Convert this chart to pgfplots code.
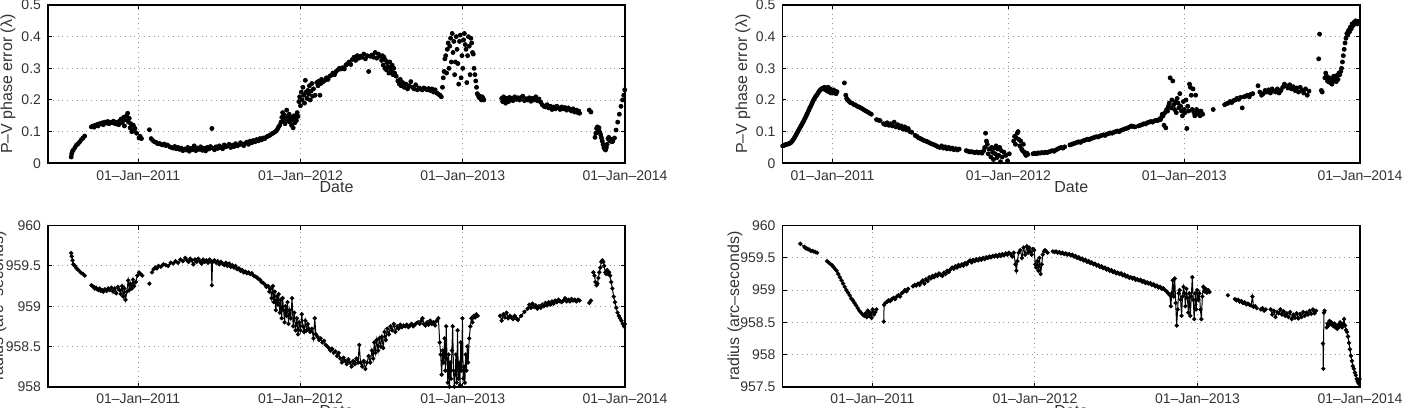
\documentclass[border=0pt]{standalone}
\usepackage{fontspec}
\setmainfont{Liberation Sans}
\usepackage{pgfplots}
\pgfplotsset{compat=1.18}
\newcommand{\tf}{\fontsize{7}{8}\selectfont}
\newcommand{\lf}{\fontsize{8}{9}\selectfont}
\pgfplotsset{
 myax/.style={
  scale only axis, anchor=south west,
  xmax=2014, xtick={2011,2012,2013,2014},
  xticklabels={01--Jan--2011,01--Jan--2012,01--Jan--2013,01--Jan--2014},
  grid=major, major grid style={dotted, black!40, line width=0.45pt},
  tick align=inside, major tick length=2pt, tick style={black, line width=0.5pt},
  axis line style={line width=0.8pt},
  xticklabel style={font=\tf, text=black!80},
  yticklabel style={font=\tf, text=black!80, /pgf/number format/fixed, /pgf/number format/precision=2},
  xlabel={Date},
  every axis x label/.style={at={(rel axis cs:0.5,0)}, anchor=center, yshift=-12pt, font=\lf, text=black!80},
  /pgf/number format/assume math mode=true,
  unbounded coords=jump,
 },
 yl/.style={every axis y label/.style={at={(rel axis cs:0,0.5)}, xshift=#1, rotate=90, anchor=center, font=\lf, text=black!80}},
 dots/.style={only marks, mark=*, mark size=1pt, black},
 ldots/.style={mark=*, mark size=0.8pt, black, line width=0.5pt},
}
\begin{document}
\begin{tikzpicture}
\useasboundingbox (0,0) rectangle (706pt,203.5pt);
% ---------------- top left
\begin{axis}[myax, at={(24pt,121.85pt)}, width=288.5pt, height=79.15pt,
  xmin=2010.444, ymin=0, ymax=0.5, ytick={0,0.1,0.2,0.3,0.4,0.5},
  ylabel={P--V phase error (λ)}, yl=-20pt]
\addplot[dots] coordinates {
(2010.587,0.020)(2010.590,0.030)(2010.595,0.038)(2010.600,0.042)(2010.610,0.050)(2010.620,0.058)(2010.630,0.062)(2010.640,0.068)(2010.650,0.075)(2010.660,0.080)(2010.670,0.086)
(2010.711,0.115)(2010.720,0.118)(2010.728,0.114)(2010.735,0.120)(2010.745,0.122)(2010.752,0.118)(2010.760,0.125)(2010.770,0.124)(2010.778,0.128)(2010.785,0.122)(2010.795,0.130)(2010.805,0.127)(2010.812,0.132)(2010.820,0.125)(2010.830,0.130)(2010.840,0.128)(2010.848,0.133)(2010.855,0.126)(2010.865,0.124)(2010.872,0.130)(2010.880,0.122)(2010.888,0.135)(2010.895,0.140)(2010.902,0.128)(2010.910,0.145)(2010.915,0.118)(2010.920,0.138)(2010.928,0.150)(2010.935,0.158)(2010.940,0.130)(2010.945,0.142)(2010.950,0.112)(2010.955,0.125)(2010.960,0.100)(2010.965,0.105)(2010.970,0.120)(2010.975,0.102)(2010.980,0.110)(2010.990,0.095)(2011.005,0.080)(2011.012,0.085)(2011.020,0.078)
(2011.069,0.106)(2011.080,0.078)(2011.090,0.072)(2011.100,0.068)(2011.110,0.066)(2011.120,0.062)(2011.130,0.063)(2011.140,0.060)(2011.150,0.058)(2011.160,0.061)(2011.170,0.056)(2011.180,0.058)(2011.195,0.052)(2011.205,0.050)(2011.215,0.048)(2011.225,0.053)(2011.235,0.046)(2011.245,0.050)(2011.255,0.044)(2011.265,0.048)(2011.275,0.040)(2011.285,0.045)(2011.295,0.042)(2011.305,0.050)(2011.315,0.038)(2011.325,0.047)(2011.335,0.043)(2011.345,0.055)(2011.355,0.040)(2011.365,0.048)(2011.375,0.044)(2011.385,0.052)(2011.395,0.041)(2011.405,0.047)(2011.415,0.039)(2011.425,0.050)(2011.435,0.045)(2011.445,0.053)(2011.454,0.110)(2011.460,0.048)(2011.470,0.043)(2011.480,0.052)(2011.490,0.047)(2011.500,0.055)(2011.510,0.050)(2011.520,0.046)(2011.530,0.058)(2011.540,0.052)(2011.550,0.055)(2011.560,0.060)(2011.570,0.050)(2011.580,0.057)(2011.590,0.053)(2011.600,0.062)(2011.610,0.055)(2011.620,0.058)(2011.630,0.065)(2011.640,0.060)(2011.650,0.056)(2011.660,0.063)(2011.670,0.067)(2011.680,0.060)(2011.690,0.070)(2011.700,0.065)(2011.710,0.072)(2011.720,0.068)(2011.730,0.075)(2011.740,0.071)(2011.750,0.078)(2011.760,0.074)(2011.770,0.080)(2011.780,0.078)(2011.790,0.083)(2011.800,0.086)(2011.810,0.088)(2011.820,0.092)(2011.830,0.095)(2011.840,0.098)(2011.850,0.102)(2011.858,0.108)(2011.865,0.115)(2011.872,0.120)(2011.880,0.130)(2011.885,0.145)(2011.890,0.160)(2011.895,0.138)(2011.900,0.152)(2011.905,0.125)(2011.910,0.148)(2011.915,0.168)(2011.920,0.135)(2011.925,0.142)(2011.930,0.155)(2011.935,0.130)(2011.940,0.145)(2011.945,0.120)(2011.950,0.138)(2011.955,0.112)(2011.960,0.150)(2011.965,0.128)(2011.970,0.145)(2011.975,0.135)(2011.980,0.160)(2011.985,0.148)(2011.990,0.195)(2011.995,0.210)(2012.000,0.182)(2012.005,0.225)(2012.010,0.200)(2012.015,0.240)(2012.020,0.215)(2012.025,0.190)(2012.030,0.262)(2012.035,0.225)(2012.040,0.205)(2012.045,0.230)(2012.050,0.218)(2012.055,0.245)(2012.060,0.200)(2012.065,0.228)(2012.070,0.252)(2012.075,0.212)(2012.080,0.235)(2012.090,0.215)(2012.100,0.255)(2012.108,0.245)(2012.115,0.260)(2012.120,0.215)(2012.125,0.252)(2012.130,0.265)(2012.140,0.258)(2012.150,0.262)(2012.160,0.270)(2012.170,0.265)(2012.180,0.275)(2012.190,0.278)(2012.200,0.285)(2012.210,0.280)(2012.220,0.290)(2012.230,0.295)(2012.240,0.300)(2012.250,0.298)(2012.260,0.302)(2012.270,0.298)(2012.280,0.310)(2012.290,0.315)(2012.300,0.320)(2012.310,0.312)(2012.320,0.328)(2012.330,0.335)(2012.340,0.325)(2012.350,0.340)(2012.360,0.332)(2012.370,0.338)(2012.380,0.335)(2012.390,0.345)(2012.400,0.330)(2012.410,0.340)(2012.420,0.290)(2012.430,0.338)(2012.440,0.342)(2012.450,0.335)(2012.460,0.350)(2012.470,0.332)(2012.480,0.345)(2012.490,0.338)(2012.500,0.325)(2012.505,0.340)(2012.510,0.310)(2012.515,0.335)(2012.520,0.300)(2012.525,0.325)(2012.530,0.295)(2012.535,0.318)(2012.540,0.305)(2012.545,0.285)(2012.550,0.320)(2012.555,0.300)(2012.560,0.290)(2012.565,0.310)(2012.570,0.280)(2012.575,0.300)(2012.580,0.285)(2012.590,0.275)(2012.600,0.260)(2012.610,0.250)(2012.615,0.265)(2012.620,0.245)(2012.630,0.255)(2012.640,0.240)(2012.650,0.250)(2012.660,0.235)(2012.670,0.245)(2012.680,0.258)(2012.690,0.240)(2012.700,0.235)(2012.710,0.248)(2012.720,0.232)(2012.730,0.238)(2012.740,0.235)(2012.750,0.232)(2012.760,0.238)(2012.770,0.235)(2012.780,0.232)(2012.790,0.236)(2012.800,0.230)(2012.810,0.235)(2012.820,0.225)(2012.830,0.232)(2012.840,0.222)(2012.850,0.218)(2012.860,0.215)(2012.868,0.210)(2012.875,0.240)(2012.880,0.270)(2012.885,0.290)(2012.890,0.330)(2012.895,0.340)(2012.900,0.285)(2012.905,0.360)(2012.910,0.380)(2012.915,0.300)(2012.920,0.370)(2012.925,0.395)(2012.930,0.320)(2012.935,0.410)(2012.940,0.350)(2012.945,0.385)(2012.950,0.280)(2012.955,0.320)(2012.960,0.400)(2012.965,0.360)(2012.970,0.315)(2012.975,0.250)(2012.980,0.385)(2012.985,0.405)(2012.990,0.270)(2012.995,0.340)(2013.000,0.300)(2013.005,0.390)(2013.010,0.410)(2013.015,0.375)(2013.020,0.360)(2013.025,0.255)(2013.030,0.340)(2013.035,0.400)(2013.040,0.370)(2013.045,0.280)(2013.050,0.395)(2013.055,0.380)(2013.060,0.350)(2013.065,0.345)(2013.070,0.300)(2013.075,0.280)(2013.080,0.260)(2013.085,0.240)(2013.090,0.220)(2013.095,0.215)(2013.100,0.208)(2013.105,0.212)(2013.110,0.205)(2013.115,0.200)(2013.120,0.210)(2013.125,0.205)(2013.130,0.200)
(2013.240,0.205)(2013.246,0.195)(2013.252,0.210)(2013.258,0.200)(2013.264,0.190)(2013.270,0.205)(2013.276,0.200)(2013.282,0.195)(2013.288,0.208)(2013.294,0.200)(2013.300,0.205)(2013.310,0.198)(2013.320,0.210)(2013.330,0.202)(2013.340,0.207)(2013.350,0.200)(2013.360,0.208)(2013.370,0.212)(2013.380,0.198)(2013.390,0.204)(2013.400,0.200)(2013.410,0.207)(2013.420,0.196)(2013.430,0.205)(2013.440,0.200)(2013.450,0.210)(2013.460,0.198)(2013.470,0.203)
(2013.480,0.193)(2013.490,0.185)(2013.500,0.180)(2013.510,0.178)(2013.520,0.185)(2013.530,0.175)(2013.540,0.180)(2013.550,0.170)(2013.560,0.178)(2013.570,0.172)(2013.580,0.180)(2013.590,0.175)(2013.600,0.170)(2013.610,0.178)(2013.620,0.172)(2013.630,0.176)(2013.640,0.168)(2013.650,0.175)(2013.660,0.170)(2013.670,0.165)(2013.680,0.172)(2013.690,0.162)(2013.700,0.168)(2013.710,0.160)(2013.715,0.165)(2013.720,0.158)
(2013.780,0.168)(2013.790,0.162)
(2013.815,0.082)(2013.820,0.095)(2013.825,0.110)(2013.830,0.115)(2013.835,0.105)(2013.840,0.112)(2013.845,0.098)(2013.850,0.090)(2013.855,0.080)(2013.860,0.070)(2013.865,0.060)(2013.870,0.050)(2013.875,0.045)(2013.880,0.042)(2013.885,0.050)(2013.890,0.060)(2013.895,0.078)(2013.900,0.082)(2013.905,0.072)(2013.910,0.075)(2013.915,0.075)(2013.920,0.068)(2013.925,0.070)(2013.935,0.080)(2013.945,0.105)(2013.955,0.130)(2013.965,0.155)(2013.975,0.180)(2013.985,0.200)(2013.992,0.215)(2013.998,0.232)
};
\end{axis}
% ---------------- top right
\begin{axis}[myax, at={(391.25pt,121.85pt)}, width=288.75pt, height=79.15pt,
  xmin=2010.715, ymin=0, ymax=0.5, ytick={0,0.1,0.2,0.3,0.4,0.5},
  ylabel={P--V phase error (λ)}, yl=-19.75pt]
\addplot[dots] coordinates {
(2010.716,0.055)(2010.722,0.056)(2010.728,0.058)(2010.734,0.059)(2010.740,0.060)(2010.746,0.061)(2010.752,0.062)(2010.758,0.064)(2010.764,0.066)(2010.770,0.070)(2010.775,0.074)(2010.780,0.078)(2010.785,0.083)(2010.790,0.088)(2010.795,0.093)(2010.800,0.098)(2010.805,0.103)(2010.810,0.108)(2010.815,0.113)(2010.820,0.118)(2010.825,0.123)(2010.830,0.128)(2010.835,0.133)(2010.840,0.139)(2010.845,0.144)(2010.850,0.150)(2010.855,0.156)(2010.860,0.162)(2010.865,0.168)(2010.870,0.175)(2010.875,0.180)(2010.880,0.186)(2010.885,0.192)(2010.890,0.198)(2010.895,0.203)(2010.900,0.208)(2010.905,0.212)(2010.910,0.216)(2010.915,0.220)(2010.920,0.225)(2010.925,0.228)(2010.930,0.232)(2010.935,0.234)(2010.940,0.236)(2010.945,0.238)(2010.950,0.235)(2010.955,0.240)(2010.960,0.232)(2010.965,0.238)(2010.970,0.228)(2010.975,0.240)(2010.980,0.226)(2010.985,0.235)(2010.990,0.222)(2010.995,0.230)(2011.000,0.225)(2011.005,0.232)(2011.010,0.222)(2011.015,0.228)(2011.020,0.220)(2011.025,0.226)
(2011.067,0.254)
(2011.075,0.215)(2011.080,0.205)(2011.085,0.200)(2011.090,0.198)(2011.095,0.195)(2011.100,0.192)(2011.110,0.190)(2011.120,0.186)(2011.130,0.184)(2011.140,0.180)(2011.150,0.178)(2011.160,0.175)(2011.170,0.172)(2011.180,0.168)(2011.190,0.165)(2011.200,0.162)(2011.210,0.158)(2011.220,0.155)
(2011.250,0.138)(2011.260,0.136)(2011.270,0.135)
(2011.290,0.125)(2011.300,0.122)(2011.310,0.128)(2011.320,0.120)(2011.330,0.125)(2011.340,0.118)(2011.350,0.130)(2011.360,0.115)(2011.370,0.122)(2011.380,0.112)(2011.390,0.118)(2011.400,0.108)(2011.410,0.115)(2011.420,0.105)(2011.430,0.110)(2011.440,0.100)(2011.450,0.098)
(2011.470,0.088)(2011.480,0.085)(2011.490,0.080)(2011.500,0.078)(2011.510,0.075)(2011.520,0.072)(2011.530,0.070)(2011.540,0.068)(2011.550,0.065)(2011.560,0.062)(2011.570,0.060)(2011.580,0.058)(2011.590,0.055)(2011.600,0.052)(2011.610,0.050)(2011.620,0.055)(2011.630,0.048)(2011.640,0.052)(2011.650,0.046)(2011.660,0.050)(2011.670,0.045)(2011.680,0.048)(2011.690,0.043)(2011.700,0.046)(2011.710,0.042)(2011.720,0.045)
(2011.760,0.040)(2011.770,0.038)(2011.780,0.036)(2011.790,0.037)(2011.800,0.035)(2011.810,0.034)(2011.820,0.036)(2011.830,0.033)(2011.840,0.035)(2011.850,0.032)(2011.860,0.040)(2011.865,0.050)(2011.870,0.095)(2011.875,0.070)(2011.880,0.060)(2011.885,0.030)(2011.890,0.045)(2011.900,0.020)(2011.905,0.050)(2011.910,0.035)(2011.915,0.012)(2011.920,0.048)(2011.925,0.030)(2011.930,0.055)(2011.935,0.018)(2011.940,0.045)(2011.945,0.025)(2011.950,0.050)(2011.955,0.005)(2011.960,0.040)(2011.965,0.020)(2011.975,0.035)(2011.985,0.025)(2011.995,0.008)(2012.005,0.030)
(2012.030,0.070)(2012.035,0.085)(2012.040,0.060)(2012.045,0.080)(2012.050,0.095)(2012.055,0.100)(2012.060,0.075)(2012.065,0.055)(2012.070,0.070)(2012.075,0.045)(2012.080,0.040)(2012.085,0.060)(2012.090,0.035)(2012.095,0.030)(2012.100,0.025)(2012.105,0.032)(2012.110,0.028)
(2012.140,0.030)(2012.150,0.032)(2012.160,0.030)(2012.170,0.033)(2012.180,0.032)(2012.190,0.034)(2012.200,0.033)(2012.210,0.035)(2012.220,0.034)(2012.230,0.036)(2012.240,0.038)(2012.250,0.040)(2012.260,0.038)(2012.270,0.042)(2012.280,0.045)(2012.290,0.048)(2012.300,0.050)(2012.310,0.048)(2012.320,0.052)
(2012.350,0.058)(2012.360,0.060)(2012.370,0.062)(2012.380,0.064)(2012.390,0.066)(2012.400,0.068)(2012.410,0.066)(2012.420,0.070)(2012.430,0.072)(2012.440,0.074)(2012.450,0.076)(2012.460,0.075)(2012.470,0.078)(2012.480,0.080)(2012.490,0.082)(2012.500,0.084)(2012.510,0.083)(2012.520,0.086)(2012.530,0.088)(2012.540,0.090)(2012.550,0.088)(2012.560,0.092)(2012.570,0.094)(2012.580,0.096)(2012.590,0.095)(2012.600,0.098)(2012.610,0.100)(2012.620,0.102)(2012.630,0.100)(2012.640,0.104)(2012.650,0.106)(2012.660,0.108)(2012.670,0.110)(2012.680,0.112)(2012.690,0.115)(2012.700,0.118)(2012.710,0.116)(2012.720,0.115)
(2012.740,0.118)(2012.750,0.120)(2012.760,0.122)(2012.770,0.125)(2012.780,0.124)(2012.790,0.128)(2012.800,0.130)(2012.810,0.132)(2012.820,0.130)(2012.830,0.134)(2012.840,0.136)(2012.850,0.135)(2012.860,0.140)(2012.865,0.138)(2012.870,0.145)(2012.875,0.155)(2012.880,0.150)(2012.885,0.120)(2012.890,0.160)(2012.895,0.112)(2012.900,0.170)(2012.905,0.165)(2012.910,0.180)(2012.915,0.190)(2012.920,0.270)(2012.925,0.175)(2012.930,0.200)(2012.935,0.260)(2012.940,0.185)(2012.945,0.170)(2012.950,0.195)(2012.955,0.160)(2012.960,0.205)(2012.965,0.190)(2012.970,0.175)(2012.975,0.220)(2012.980,0.180)(2012.985,0.165)(2012.990,0.150)(2012.995,0.195)(2013.000,0.170)(2013.005,0.160)(2013.010,0.200)(2013.015,0.110)(2013.020,0.180)(2013.025,0.165)(2013.030,0.250)(2013.035,0.240)(2013.040,0.215)(2013.045,0.170)(2013.050,0.235)(2013.055,0.160)(2013.060,0.150)(2013.065,0.215)(2013.070,0.170)(2013.075,0.165)(2013.080,0.155)(2013.085,0.160)(2013.090,0.150)(2013.095,0.165)(2013.100,0.158)(2013.105,0.155)
(2013.165,0.170)
(2013.230,0.185)(2013.240,0.188)(2013.250,0.190)(2013.260,0.195)(2013.270,0.192)(2013.280,0.198)(2013.290,0.200)(2013.300,0.205)(2013.310,0.202)(2013.320,0.208)(2013.330,0.175)(2013.340,0.210)(2013.350,0.212)(2013.360,0.215)(2013.370,0.210)(2013.380,0.218)(2013.390,0.220)
(2013.420,0.245)(2013.430,0.225)(2013.440,0.215)(2013.450,0.220)(2013.460,0.230)(2013.470,0.225)(2013.480,0.232)(2013.490,0.222)(2013.500,0.235)(2013.510,0.228)(2013.520,0.225)(2013.530,0.235)(2013.540,0.222)(2013.550,0.230)(2013.560,0.240)(2013.570,0.250)(2013.580,0.245)(2013.590,0.238)(2013.600,0.248)(2013.610,0.235)(2013.620,0.242)(2013.630,0.230)(2013.640,0.238)(2013.650,0.225)(2013.660,0.240)(2013.670,0.230)(2013.680,0.222)(2013.690,0.235)(2013.700,0.215)(2013.710,0.228)
(2013.765,0.330)(2013.770,0.408)
(2013.780,0.230)(2013.785,0.225)
(2013.800,0.270)(2013.805,0.285)(2013.810,0.275)(2013.815,0.260)(2013.820,0.258)(2013.825,0.270)(2013.830,0.255)(2013.835,0.262)(2013.840,0.250)(2013.845,0.265)(2013.850,0.275)(2013.855,0.260)(2013.860,0.270)(2013.865,0.258)(2013.870,0.278)(2013.875,0.265)(2013.880,0.285)(2013.885,0.280)(2013.890,0.290)(2013.895,0.300)(2013.900,0.320)(2013.905,0.340)(2013.910,0.360)(2013.915,0.380)(2013.920,0.395)(2013.925,0.410)(2013.930,0.405)(2013.935,0.420)(2013.940,0.415)(2013.945,0.430)(2013.950,0.425)(2013.955,0.440)(2013.960,0.435)(2013.965,0.445)(2013.970,0.440)(2013.975,0.450)(2013.980,0.445)(2013.985,0.440)(2013.990,0.448)
};
\end{axis}
% ---------------- bottom left
\begin{axis}[myax, at={(24pt,10.15pt)}, width=288.5pt, height=80.5pt,
  xmin=2010.444, ymin=958, ymax=960, ytick={958,958.5,959,959.5,960},
  ylabel={radius (arc--seconds)}, yl=-24.5pt]
\addplot[ldots] coordinates {
(2010.587,959.66)(2010.590,959.62)(2010.595,959.57)(2010.600,959.52)(2010.610,959.50)(2010.620,959.47)(2010.630,959.45)(2010.645,959.42)(2010.660,959.40)(2010.670,959.38)
(2010.690,nan)
(2010.711,959.26)(2010.718,959.25)(2010.725,959.24)(2010.732,959.22)(2010.740,959.23)(2010.748,959.21)(2010.755,959.20)(2010.762,959.22)(2010.770,959.19)(2010.778,959.20)(2010.785,959.18)(2010.795,959.21)(2010.805,959.19)(2010.815,959.22)(2010.825,959.20)(2010.835,959.23)(2010.845,959.18)(2010.855,959.22)(2010.865,959.16)(2010.875,959.24)(2010.885,959.20)(2010.892,959.15)(2010.900,959.25)(2010.908,959.12)(2010.915,959.22)(2010.922,959.08)(2010.930,959.18)(2010.938,959.32)(2010.945,959.20)(2010.952,959.28)(2010.960,959.22)(2010.968,959.33)(2010.975,959.25)(2010.985,959.30)(2010.995,959.38)(2011.005,959.42)(2011.015,959.40)(2011.025,959.38)
(2011.050,nan)
(2011.069,959.28)
(2011.077,nan)
(2011.085,959.42)(2011.095,959.46)(2011.105,959.48)(2011.115,959.47)(2011.125,959.50)(2011.140,959.49)(2011.155,959.52)(2011.170,959.51)(2011.185,959.50)(2011.200,959.54)(2011.215,959.53)(2011.230,959.56)(2011.245,959.54)(2011.260,959.58)(2011.275,959.56)(2011.290,959.60)(2011.300,959.57)(2011.310,959.55)(2011.320,959.59)(2011.330,959.57)(2011.340,959.52)(2011.350,959.58)(2011.360,959.55)(2011.370,959.59)(2011.380,959.56)(2011.390,959.53)(2011.400,959.58)(2011.410,959.55)(2011.420,959.57)(2011.430,959.54)(2011.440,959.58)(2011.450,959.55)(2011.454,959.26)(2011.458,959.55)(2011.470,959.57)(2011.480,959.54)(2011.490,959.56)(2011.500,959.52)(2011.510,959.55)(2011.520,959.53)(2011.530,959.51)(2011.540,959.54)(2011.550,959.50)(2011.560,959.53)(2011.570,959.49)(2011.580,959.51)(2011.590,959.48)(2011.600,959.50)(2011.610,959.46)(2011.620,959.47)(2011.630,959.44)(2011.640,959.45)(2011.650,959.42)(2011.660,959.43)(2011.670,959.41)(2011.680,959.42)(2011.690,959.40)(2011.700,959.41)(2011.710,959.38)(2011.720,959.37)(2011.730,959.36)(2011.740,959.34)(2011.750,959.33)(2011.760,959.30)(2011.770,959.29)(2011.780,959.27)(2011.790,959.24)(2011.800,959.25)(2011.808,959.18)(2011.815,959.22)(2011.822,959.10)(2011.830,959.25)(2011.836,959.05)(2011.842,959.18)(2011.848,958.95)(2011.855,959.12)(2011.860,959.02)(2011.866,959.15)(2011.872,958.92)(2011.878,959.08)(2011.884,958.85)(2011.890,959.10)(2011.896,958.95)(2011.902,958.80)(2011.908,959.00)(2011.914,958.88)(2011.920,959.05)(2011.926,958.78)(2011.932,958.95)(2011.940,958.85)(2011.948,959.10)(2011.955,958.75)(2011.962,958.92)(2011.970,958.70)(2011.978,958.85)(2011.985,958.65)(2011.992,958.80)(2012.000,958.70)(2012.008,958.90)(2012.015,958.75)(2012.022,958.68)(2012.030,958.82)(2012.038,958.70)(2012.045,958.78)(2012.052,958.72)(2012.060,958.68)(2012.070,958.72)(2012.080,958.60)(2012.088,958.85)(2012.095,958.65)(2012.105,958.62)(2012.115,958.58)(2012.125,958.60)(2012.135,958.55)(2012.145,958.57)(2012.155,958.52)(2012.165,958.50)(2012.175,958.48)(2012.185,958.45)(2012.195,958.47)(2012.205,958.42)(2012.215,958.44)(2012.225,958.38)(2012.235,958.42)(2012.245,958.35)(2012.255,958.30)(2012.265,958.36)(2012.275,958.32)(2012.285,958.28)(2012.295,958.34)(2012.305,958.30)(2012.315,958.25)(2012.325,958.32)(2012.335,958.28)(2012.345,958.35)(2012.355,958.30)(2012.362,958.52)(2012.370,958.30)(2012.380,958.25)(2012.390,958.32)(2012.400,958.22)(2012.410,958.30)(2012.420,958.38)(2012.430,958.30)(2012.440,958.45)(2012.448,958.35)(2012.455,958.55)(2012.462,958.42)(2012.470,958.58)(2012.478,958.45)(2012.486,958.60)(2012.494,958.50)(2012.502,958.62)(2012.510,958.48)(2012.518,958.68)(2012.526,958.58)(2012.535,958.72)(2012.545,958.65)(2012.555,958.75)(2012.565,958.70)(2012.575,958.78)(2012.585,958.68)(2012.595,958.75)(2012.605,958.72)(2012.615,958.77)(2012.625,958.74)(2012.635,958.76)(2012.645,958.75)(2012.655,958.77)(2012.665,958.74)(2012.675,958.76)(2012.685,958.78)(2012.695,958.75)(2012.705,958.77)(2012.715,958.79)(2012.725,958.80)(2012.735,958.78)(2012.745,958.82)(2012.752,958.85)(2012.760,958.78)(2012.770,958.76)(2012.780,958.80)(2012.790,958.77)(2012.800,958.82)(2012.810,958.78)(2012.820,958.80)(2012.830,958.76)(2012.840,958.82)(2012.850,958.85)(2012.858,958.55)(2012.864,958.40)(2012.870,958.15)(2012.876,958.45)(2012.882,958.30)(2012.888,958.60)(2012.893,958.20)(2012.898,958.75)(2012.903,958.35)(2012.908,958.05)(2012.913,958.40)(2012.918,958.00)(2012.923,958.30)(2012.928,958.10)(2012.933,958.45)(2012.938,958.75)(2012.943,958.20)(2012.948,958.00)(2012.953,958.15)(2012.958,958.40)(2012.963,958.05)(2012.968,958.70)(2012.973,958.10)(2012.978,958.30)(2012.983,958.02)(2012.988,958.55)(2012.993,958.20)(2012.998,958.85)(2013.003,958.10)(2013.008,958.25)(2013.013,958.05)(2013.018,958.40)(2013.023,958.20)(2013.028,958.50)(2013.033,958.30)(2013.040,958.60)(2013.047,958.75)(2013.054,958.85)(2013.060,958.80)(2013.068,958.88)(2013.076,958.86)(2013.084,958.90)(2013.092,958.88)
(2013.150,nan)
(2013.230,958.88)(2013.240,958.82)(2013.250,958.90)(2013.260,958.86)(2013.270,958.92)(2013.280,958.85)(2013.290,958.88)(2013.300,958.86)(2013.310,958.84)(2013.320,958.88)(2013.330,958.85)(2013.340,958.83)(2013.360,958.88)(2013.380,958.93)(2013.400,958.97)(2013.410,959.02)(2013.420,958.98)(2013.430,959.03)(2013.440,958.99)(2013.450,959.01)(2013.460,958.97)(2013.470,959.00)(2013.480,958.98)(2013.490,959.02)(2013.500,959.00)(2013.510,959.04)(2013.520,959.01)(2013.530,959.05)(2013.540,959.02)(2013.550,959.06)(2013.560,959.03)(2013.570,959.07)(2013.580,959.05)(2013.590,959.08)(2013.600,959.06)(2013.610,959.05)(2013.620,959.07)(2013.630,959.10)(2013.640,959.06)(2013.650,959.08)(2013.660,959.06)(2013.670,959.09)(2013.680,959.07)(2013.690,959.08)(2013.700,959.06)(2013.710,959.08)(2013.720,959.07)
(2013.750,nan)
(2013.780,959.04)(2013.790,959.07)
(2013.798,nan)
(2013.805,959.42)(2013.812,959.38)(2013.818,959.30)(2013.824,959.26)(2013.830,959.28)(2013.836,959.35)(2013.842,959.42)(2013.848,959.48)(2013.854,959.55)(2013.860,959.57)(2013.866,959.55)(2013.872,959.50)(2013.878,959.42)(2013.884,959.40)(2013.890,959.45)(2013.896,959.40)(2013.902,959.42)(2013.908,959.38)(2013.915,959.30)(2013.922,959.22)(2013.930,959.12)(2013.938,959.05)(2013.946,958.98)(2013.954,958.92)(2013.962,958.88)(2013.970,958.85)(2013.978,958.82)(2013.986,958.78)(2013.994,958.75)(2013.999,958.78)
};
\end{axis}
% ---------------- bottom right
\begin{axis}[myax, at={(391.25pt,10.15pt)}, width=288.75pt, height=80.5pt,
  xmin=2010.447, ymin=957.5, ymax=960, ytick={957.5,958,958.5,959,959.5,960},
  ylabel={radius (arc--seconds)}, yl=-23.75pt]
\addplot[ldots] coordinates {
(2010.556,959.72)(2010.582,959.67)(2010.590,959.65)(2010.600,959.64)(2010.610,959.63)(2010.620,959.61)(2010.630,959.61)(2010.640,959.60)(2010.650,959.59)(2010.660,959.58)
(2010.690,nan)
(2010.721,959.45)(2010.730,959.43)(2010.740,959.41)(2010.750,959.39)(2010.760,959.36)(2010.770,959.33)(2010.780,959.30)(2010.790,959.25)(2010.800,959.20)(2010.810,959.15)(2010.820,959.10)(2010.830,959.05)(2010.840,959.00)(2010.850,958.96)(2010.860,958.92)(2010.870,958.87)(2010.880,958.84)(2010.890,958.80)(2010.900,958.76)(2010.910,958.72)(2010.920,958.68)(2010.930,958.65)(2010.940,958.62)(2010.950,958.60)(2010.958,958.64)(2010.965,958.58)(2010.972,958.68)(2010.980,958.60)(2010.988,958.65)(2010.995,958.57)(2011.002,958.70)(2011.010,958.62)(2011.018,958.66)(2011.025,958.70)
(2011.050,nan)
(2011.070,958.51)(2011.072,958.77)(2011.080,958.80)(2011.090,958.82)(2011.100,958.84)(2011.110,958.83)(2011.120,958.86)(2011.130,958.88)(2011.140,958.86)(2011.150,958.90)(2011.160,958.92)(2011.170,958.90)(2011.180,958.95)(2011.190,958.97)(2011.200,959.00)(2011.210,958.98)(2011.220,959.02)
(2011.235,nan)
(2011.250,959.06)(2011.260,959.08)(2011.270,959.07)(2011.280,959.10)(2011.290,959.08)(2011.300,959.12)(2011.310,959.15)(2011.320,959.10)(2011.330,959.17)(2011.340,959.14)(2011.350,959.20)(2011.360,959.18)(2011.370,959.22)(2011.380,959.20)(2011.390,959.24)(2011.400,959.22)(2011.410,959.26)(2011.420,959.24)(2011.430,959.22)(2011.440,959.27)(2011.450,959.25)(2011.460,959.30)(2011.470,959.28)(2011.480,959.32)(2011.490,959.35)(2011.500,959.33)(2011.510,959.37)(2011.520,959.35)(2011.530,959.39)(2011.540,959.37)(2011.550,959.40)(2011.560,959.38)(2011.570,959.42)(2011.580,959.40)(2011.590,959.44)(2011.600,959.46)(2011.610,959.43)(2011.620,959.47)(2011.630,959.45)(2011.640,959.48)(2011.650,959.46)(2011.660,959.49)(2011.670,959.47)(2011.680,959.50)(2011.690,959.48)(2011.700,959.51)(2011.710,959.50)(2011.720,959.52)(2011.730,959.51)(2011.740,959.53)(2011.750,959.52)(2011.760,959.54)(2011.770,959.52)(2011.780,959.55)(2011.790,959.53)(2011.800,959.56)(2011.810,959.54)(2011.820,959.57)(2011.830,959.55)(2011.840,959.58)(2011.850,959.56)(2011.860,959.52)(2011.870,959.58)(2011.880,959.40)(2011.886,959.30)(2011.892,959.45)(2011.900,959.58)(2011.910,959.62)(2011.920,959.50)(2011.930,959.66)(2011.940,959.55)(2011.950,959.68)(2011.958,959.58)(2011.965,959.66)(2011.972,959.60)(2011.980,959.55)(2011.988,959.64)(2011.995,959.62)(2012.002,959.40)(2012.008,959.35)(2012.015,959.45)(2012.022,959.30)(2012.028,959.50)(2012.035,959.25)(2012.042,959.40)(2012.048,959.55)(2012.055,959.60)(2012.062,959.62)(2012.070,959.60)(2012.078,959.58)
(2012.095,nan)
(2012.110,959.60)(2012.120,959.59)(2012.130,959.60)(2012.140,959.58)(2012.150,959.59)(2012.160,959.57)(2012.170,959.58)(2012.180,959.56)(2012.190,959.57)(2012.200,959.55)(2012.210,959.56)(2012.220,959.54)(2012.230,959.55)(2012.240,959.52)(2012.250,959.53)(2012.260,959.50)(2012.270,959.51)(2012.280,959.48)(2012.290,959.49)(2012.300,959.46)(2012.310,959.47)(2012.320,959.44)(2012.330,959.45)(2012.340,959.42)(2012.350,959.43)(2012.360,959.40)(2012.370,959.41)(2012.380,959.38)(2012.390,959.39)(2012.400,959.36)(2012.410,959.37)(2012.420,959.34)(2012.430,959.35)(2012.440,959.32)(2012.450,959.33)(2012.460,959.30)(2012.470,959.31)(2012.480,959.28)(2012.490,959.29)(2012.500,959.26)(2012.510,959.27)(2012.520,959.25)(2012.530,959.26)(2012.540,959.23)(2012.550,959.24)(2012.560,959.21)(2012.570,959.22)(2012.580,959.19)(2012.590,959.20)(2012.600,959.18)(2012.610,959.19)(2012.620,959.16)(2012.630,959.17)(2012.640,959.15)(2012.650,959.16)(2012.660,959.13)(2012.670,959.14)(2012.680,959.11)(2012.690,959.12)(2012.700,959.10)(2012.710,959.11)(2012.720,959.08)(2012.730,959.09)(2012.740,959.06)(2012.750,959.07)(2012.760,959.04)(2012.770,959.05)(2012.780,959.02)(2012.790,959.03)(2012.800,959.00)(2012.810,958.98)(2012.820,958.95)(2012.830,958.92)(2012.836,958.75)(2012.842,958.95)(2012.848,959.15)(2012.854,958.90)(2012.860,959.18)(2012.866,958.80)(2012.872,958.45)(2012.878,958.70)(2012.884,958.95)(2012.890,959.00)(2012.896,958.85)(2012.902,958.60)(2012.908,958.90)(2012.914,959.05)(2012.920,958.95)(2012.926,958.75)(2012.932,959.02)(2012.938,958.88)(2012.944,958.65)(2012.950,958.95)(2012.956,958.60)(2012.962,958.90)(2012.968,959.20)(2012.974,958.85)(2012.980,958.55)(2012.986,958.95)(2012.992,958.70)(2012.998,959.00)(2013.005,958.85)(2013.012,958.95)(2013.018,958.70)(2013.024,958.55)(2013.030,958.90)(2013.036,959.05)(2013.042,958.98)(2013.050,959.02)(2013.058,958.96)(2013.066,959.00)(2013.074,958.97)
(2013.120,nan)
(2013.187,958.92)
(2013.210,nan)
(2013.230,958.86)(2013.240,958.84)(2013.250,958.85)(2013.260,958.82)(2013.270,958.83)(2013.280,958.80)(2013.290,958.81)(2013.300,958.78)(2013.310,958.79)(2013.320,958.77)(2013.330,958.76)(2013.338,958.90)(2013.345,958.74)(2013.355,958.75)(2013.365,958.72)
(2013.378,nan)
(2013.390,958.70)(2013.400,958.72)(2013.410,958.68)(2013.420,958.70)
(2013.435,nan)
(2013.450,958.70)(2013.460,958.62)(2013.470,958.68)(2013.480,958.58)(2013.490,958.66)(2013.500,958.64)(2013.510,958.70)(2013.520,958.62)(2013.530,958.67)(2013.540,958.60)(2013.550,958.64)(2013.560,958.58)(2013.570,958.66)(2013.580,958.55)(2013.590,958.62)(2013.600,958.57)(2013.610,958.64)(2013.620,958.56)(2013.630,958.63)(2013.640,958.58)(2013.650,958.66)(2013.660,958.60)(2013.670,958.65)(2013.680,958.62)(2013.690,958.68)(2013.700,958.63)(2013.710,958.70)(2013.720,958.64)(2013.730,958.68)
(2013.750,nan)
(2013.772,958.17)(2013.774,957.78)(2013.778,958.65)(2013.782,958.68)
(2013.789,nan)
(2013.795,958.42)(2013.800,958.48)(2013.806,958.45)(2013.812,958.52)(2013.818,958.48)(2013.824,958.50)(2013.830,958.46)(2013.836,958.44)(2013.842,958.48)(2013.848,958.42)(2013.854,958.45)(2013.860,958.40)(2013.866,958.46)(2013.872,958.43)(2013.878,958.50)(2013.884,958.45)(2013.890,958.42)(2013.896,958.48)(2013.902,958.55)(2013.908,958.45)(2013.914,958.38)(2013.920,958.35)(2013.926,958.28)(2013.932,958.18)(2013.938,958.08)(2013.944,957.98)(2013.950,957.90)(2013.956,957.82)(2013.962,957.78)(2013.968,957.72)(2013.974,957.68)(2013.980,957.62)(2013.986,957.58)(2013.992,957.55)(2013.997,957.62)
};
\end{axis}
\end{tikzpicture}
\end{document}
